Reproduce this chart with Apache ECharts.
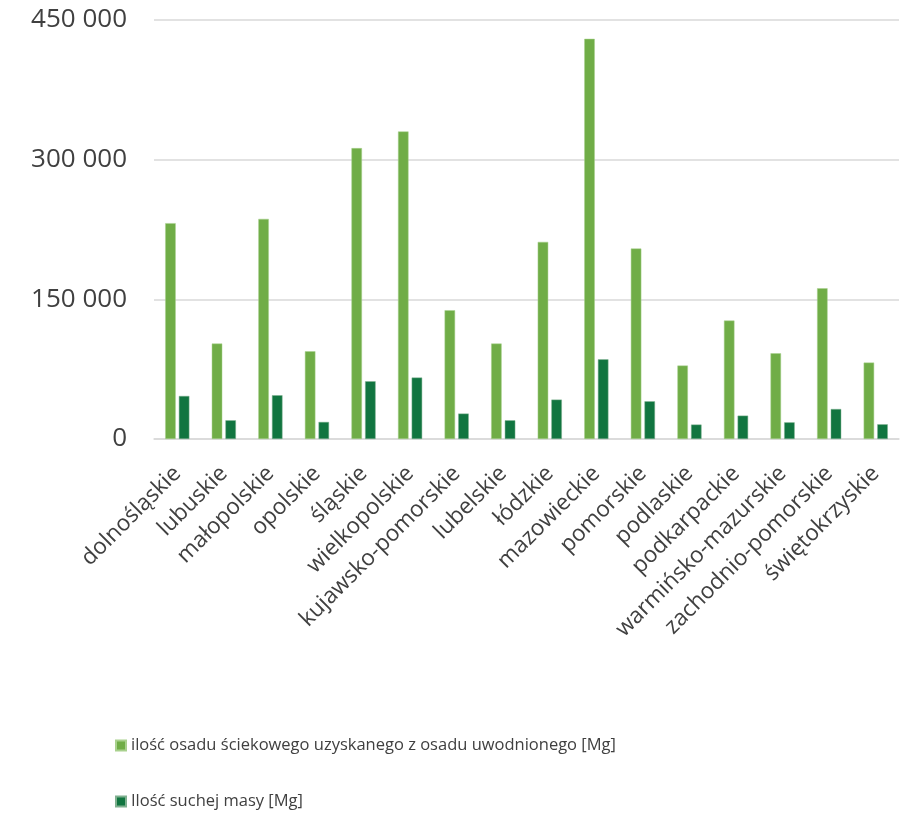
<!DOCTYPE html>
<html>
<head>
<meta charset="utf-8">
<script src="https://cdn.jsdelivr.net/npm/echarts@6/dist/echarts.min.js"></script>
<style>html,body{margin:0;padding:0;background:#fff}#c{width:910px;height:815px}</style>
</head>
<body>
<div id="c"></div>
<script>
const categories = ['dolnośląskie','lubuskie','małopolskie','opolskie','śląskie','wielkopolskie','kujawsko-pomorskie','lubelskie','łódzkie','mazowieckie','pomorskie','podlaskie','podkarpackie','warmińsko-mazurskie','zachodnio-pomorskie','świętokrzyskie'];
const osadUwodniony = [231800,102500,236400,94200,312400,330300,138300,102500,211700,429800,204600,78900,127200,92100,161900,82100];
const suchaMasa = [46200,20100,47000,18300,62000,66000,27300,20100,42300,85600,40500,15500,25100,17900,32200,15800];
const seriesNames = ['ilość osadu ściekowego uzyskanego z osadu uwodnionego [Mg]','Ilość suchej masy [Mg]'];
const yTicks = [0,150000,300000,450000];

const font = 'Open Sans';
const txt = '#404040';
const legendBase = {
  orient:'horizontal',left:110,
  icon:'rect',itemWidth:10,itemHeight:10,itemGap:0,
  textStyle:{fontFamily:font,fontSize:16.5,color:txt}
};
const chart = echarts.init(document.getElementById('c'));
chart.setOption({
  animation:false,
  textStyle:{fontFamily:font},
  grid:{left:154,right:11,top:20,bottom:376,containLabel:false},
  legend:[
    Object.assign({},legendBase,{top:732,data:[seriesNames[0]]}),
    Object.assign({},legendBase,{top:788,data:[seriesNames[1]]})
  ],
  xAxis:{
    type:'category',data:categories,
    axisTick:{show:false},
    axisLine:{lineStyle:{color:'#d9d9d9',width:1.5}},
    axisLabel:{rotate:45,interval:0,margin:31,fontSize:22.5,color:txt,fontFamily:font}
  },
  yAxis:{
    type:'value',min:yTicks[0],max:yTicks[yTicks.length-1],interval:150000,
    axisLine:{show:false},axisTick:{show:false},
    splitLine:{lineStyle:{color:'#d9d9d9',width:1.5}},
    axisLabel:{margin:27,fontSize:26,color:txt,fontFamily:font,
      formatter:v=>String(v).replace(/\B(?=(\d{3})+(?!\d))/g,' ')}
  },
  series:[
    {name:seriesNames[0],type:'bar',data:osadUwodniony,barWidth:10.5,barGap:'30%',
     itemStyle:{color:'#70AD47',borderColor:'#a9d18e',borderWidth:0.5}},
    {name:seriesNames[1],type:'bar',data:suchaMasa,barWidth:10.5,barGap:'30%',
     itemStyle:{color:'#117540',borderColor:'#7fb08f',borderWidth:0.5}}
  ]
});
</script>
</body>
</html>
